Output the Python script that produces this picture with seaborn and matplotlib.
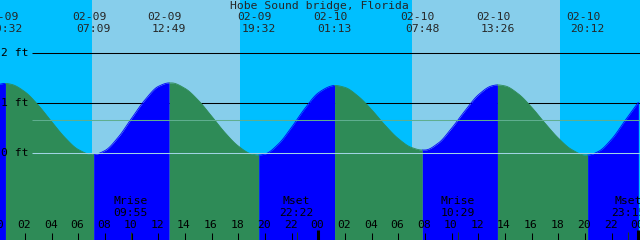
import matplotlib
matplotlib.use("Agg")
import matplotlib.pyplot as plt
import seaborn as sns
import pandas as pd
import numpy as np

# ---------------- data ----------------
title = "Hobe Sound bridge, Florida"
hours = list(range(0, 49))   # hours since 02-09 00:00
hourly_ft = [1.37, 1.37, 1.22, 0.95, 0.62, 0.30, 0.06, -0.04, 0.04, 0.31,
             0.69, 1.06, 1.33, 1.40, 1.29, 1.05, 0.73, 0.40, 0.13, -0.03,
             -0.03, 0.17, 0.51, 0.89, 1.20, 1.34, 1.31, 1.13, 0.86, 0.55,
             0.28, 0.10, 0.05, 0.19, 0.49, 0.84, 1.16, 1.34, 1.34, 1.18,
             0.91, 0.59, 0.29, 0.06, -0.05, 0.02, 0.27, 0.64, 1.01]

event_dates = ["02-09", "02-09", "02-09", "02-09", "02-10", "02-10", "02-10", "02-10"]
event_times = ["00:32", "07:09", "12:49", "19:32", "01:13", "07:48", "13:26", "20:12"]
event_kind = ["High", "Low", "High", "Low", "High", "Low", "High", "Low"]
event_ft = [1.39, -0.04, 1.40, -0.05, 1.35, 0.05, 1.36, -0.05]

moon_dates = ["02-09", "02-09", "02-10", "02-10"]
moon_labels = ["Mrise", "Mset", "Mrise", "Mset"]
moon_times = ["09:55", "22:22", "10:29", "23:15"]

sun_dates = ["02-09", "02-09", "02-10", "02-10"]
sun_times = ["07:00", "18:08", "07:02", "18:08"]   # rise, set, rise, set

hour_labels = ["00", "02", "04", "06", "08", "10", "12", "14", "16", "18", "20", "22"] * 2 + ["00"]
level_labels = ["2 ft", "1 ft", "0 ft"]
level_values = [2, 1, 0]
msl_ft = 0.65

# ---------------- helpers ----------------
def to_hours(date, hm):
    day = int(date.split("-")[1]) - 9
    h, m = hm.split(":")
    return day * 24 + int(h) + int(m) / 60.0

W, H = 640, 240
PX_PER_H = 640 / 48.0
X0 = 1.67 / PX_PER_H            # hours at pixel 0
ZERO_PX, PX_PER_FT = 152.5, 49.7

def py(p):   # pixel row -> feet
    return (ZERO_PX - p) / PX_PER_FT

def px(p):   # pixel column -> hours
    return X0 + p / PX_PER_H

def smooth_curve(x, y, start_flat, end_flat, n=12):
    """Monotone cubic (Fritsch-Carlson) rendering of a curve through the points."""
    x = np.asarray(x, float); y = np.asarray(y, float)
    if len(x) < 2:
        return x, y
    hx = np.diff(x); dl = np.diff(y) / hx
    d = np.zeros_like(y)
    for k in range(1, len(x) - 1):
        if dl[k - 1] * dl[k] <= 0:
            d[k] = 0
        else:
            w1 = 2 * hx[k] + hx[k - 1]; w2 = hx[k] + 2 * hx[k - 1]
            d[k] = (w1 + w2) / (w1 / dl[k - 1] + w2 / dl[k])
    d[0] = 0 if start_flat else dl[0]
    d[-1] = 0 if end_flat else dl[-1]
    xs, ys = [], []
    for k in range(len(x) - 1):
        s = np.linspace(0, 1, n, endpoint=False)
        h = hx[k]
        h00 = 2 * s**3 - 3 * s**2 + 1; h10 = s**3 - 2 * s**2 + s
        h01 = -2 * s**3 + 3 * s**2; h11 = s**3 - s**2
        xs.append(x[k] + s * h)
        ys.append(h00 * y[k] + h10 * h * d[k] + h01 * y[k + 1] + h11 * h * d[k + 1])
    xs.append([x[-1]]); ys.append([y[-1]])
    return np.concatenate(xs), np.concatenate(ys)

ev_t = [to_hours(d, t) for d, t in zip(event_dates, event_times)]
moon_t = [to_hours(d, t) for d, t in zip(moon_dates, moon_times)]
sun_t = [to_hours(d, t) for d, t in zip(sun_dates, sun_times)]

# ---------------- tide table with rising/falling segments ----------------
bounds = [0.0] + ev_t + [48.0]
pts = sorted(list(zip(hours, hourly_ft)) + list(zip(ev_t, event_ft)))
rows = []
for i in range(len(bounds) - 1):
    a, b = bounds[i], bounds[i + 1]
    rising = event_kind[i] == "High" if i < len(ev_t) else True
    seg_pts = [(t, h) for t, h in pts if a - 1e-9 <= t <= b + 1e-9]
    sx, sy = smooth_curve([p[0] for p in seg_pts], [p[1] for p in seg_pts],
                          start_flat=(i > 0), end_flat=(i < len(ev_t)))
    for t, h in zip(sx, sy):
        rows.append({"t": t, "h": h, "seg": i, "dir": "rising" if rising else "falling"})
df = pd.DataFrame(rows)

# ---------------- figure ----------------
sns.set_style("white")
plt.rcParams["font.family"] = ["DejaVu Sans Mono", "DejaVu Sans"]
fig = plt.figure(figsize=(6.4, 2.4), dpi=100)
ax = fig.add_axes([0, 0, 1, 1])
ax.set_facecolor("#00BFFF")
for s in ax.spines.values():
    s.set_visible(False)

# daylight
for r, s in zip(sun_t[0::2], sun_t[1::2]):
    ax.axvspan(r, s, color="#87CEEB", zorder=0, lw=0)

# level lines behind water
for v in level_values[:2]:
    ax.hlines(v, px(32), px(W), color="black", lw=0.75, zorder=1)

colors = {"rising": "#0000FF", "falling": "#2E8B57"}
for seg, g in df.groupby("seg"):
    ax.fill_between(g["t"], g["h"], py(H + 5), color=colors[g["dir"].iloc[0]], lw=0, zorder=2)
sns.lineplot(data=df, x="t", y="h", hue="dir", units="seg", estimator=None,
             palette=colors, lw=0.6, legend=False, ax=ax, zorder=2, sort=False)
ax.set_xlabel(""); ax.set_ylabel("")
ax.set_xticks([]); ax.set_yticks([])
ax.set_xlim(px(0), px(W))
ax.set_ylim(py(H), py(0))

# datum & mean lines over water
ax.hlines(0, px(32), px(W), color="#a0d4e4", lw=0.75, zorder=3)
ax.hlines(msl_ft, px(32), px(W), color="#5fae8f", lw=0.75, zorder=3)

FS = 8.2
for lab, v in zip(level_labels, level_values):
    ax.text(px(1), v, lab, ha="left", va="center", fontsize=FS, color="black", zorder=5)

ax.text(px(319), py(6), title, ha="center", va="center", fontsize=FS, zorder=5)
for t, d, tm in zip(ev_t, event_dates, event_times):
    ax.text(t - 4.5 / PX_PER_H, py(17), d, ha="center", va="center", fontsize=FS, zorder=5)
    ax.text(t, py(29), tm, ha="center", va="center", fontsize=FS, zorder=5)

for t, lab, tm in zip(moon_t, moon_labels, moon_times):
    ax.text(t, py(201.5), lab, ha="center", va="center", fontsize=FS, color="black", zorder=5)
    ax.text(t, py(213.5), tm, ha="center", va="center", fontsize=FS, color="black", zorder=5)
    ax.vlines(t, py(240), py(232), color="#1e3b1e", lw=0.75, zorder=4)

for i, lab in enumerate(hour_labels):
    t = i * 2
    ax.text(t - 1.0 / PX_PER_H, py(225.5), lab, ha="center", va="center", fontsize=FS,
            color="black", zorder=5)
    if lab == "00":
        ax.vlines(t, py(240), py(230), color="black", lw=2.2, zorder=4)
    else:
        ax.vlines(t, py(240), py(233), color="black", lw=0.75, zorder=4)

fig.savefig("out.png", dpi=100)
